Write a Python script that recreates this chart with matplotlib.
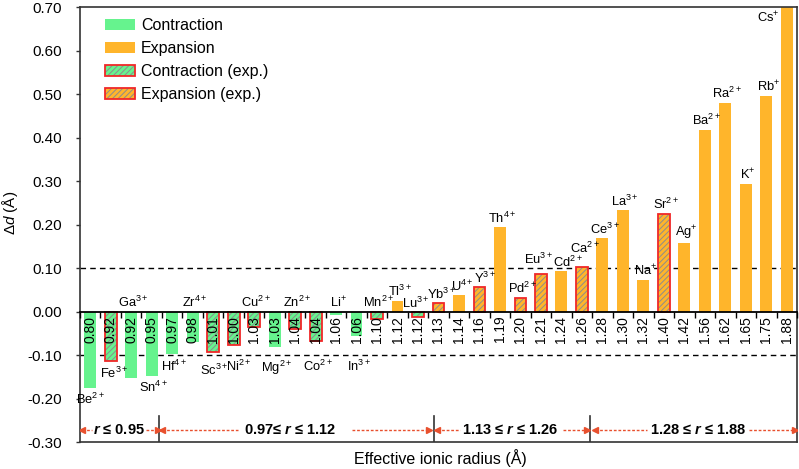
import numpy as np
import matplotlib
matplotlib.use("Agg")
import matplotlib.pyplot as plt
from matplotlib.patches import Patch
from matplotlib.legend_handler import HandlerTuple

plt.rcParams['font.family'] = ['Liberation Sans', 'DejaVu Sans']
plt.rcParams['mathtext.fontset'] = 'custom'
plt.rcParams['mathtext.rm'] = 'Liberation Sans'
plt.rcParams['mathtext.it'] = 'Liberation Sans:italic'
plt.rcParams['mathtext.bf'] = 'Liberation Sans:bold'
plt.rcParams['mathtext.bfit'] = 'Liberation Sans:italic:bold'
plt.rcParams['mathtext.sf'] = 'Liberation Sans'
plt.rcParams['hatch.linewidth'] = 0.7

# ---------------- data ----------------
elements = ['Be', 'Fe', 'Ga', 'Sn', 'Hf', 'Zr', 'Sc', 'Ni', 'Cu', 'Mg', 'Zn', 'Co',
            'Li', 'In', 'Mn', 'Tl', 'Lu', 'Yb', 'U', 'Y', 'Th', 'Pd', 'Eu', 'Cd',
            'Ca', 'Ce', 'La', 'Na', 'Sr', 'Ag', 'Ba', 'Ra', 'K', 'Rb', 'Cs']
charges = ['2+', '3+', '3+', '4+', '4+', '4+', '3+', '2+', '2+', '2+', '2+', '2+',
           '+', '3+', '2+', '3+', '3+', '3+', '4+', '3+', '4+', '2+', '3+', '2+',
           '2+', '3+', '3+', '+', '2+', '+', '2+', '2+', '+', '+', '+']
radii = ['0.80', '0.92', '0.92', '0.95', '0.97', '0.98', '1.01', '1.00', '1.03', '1.03',
         '1.04', '1.04', '1.06', '1.06', '1.10', '1.12', '1.12', '1.13', '1.14', '1.16',
         '1.19', '1.20', '1.21', '1.24', '1.26', '1.28', '1.30', '1.32', '1.40', '1.42',
         '1.56', '1.62', '1.65', '1.75', '1.88']
delta_d = [-0.176, -0.114, -0.152, -0.148, -0.098, -0.070, -0.092, -0.077, -0.036, -0.082,
           -0.040, -0.068, -0.007, -0.055, -0.017, 0.025, -0.013, 0.019, 0.038, 0.056,
           0.194, 0.032, 0.086, 0.093, 0.102, 0.169, 0.233, 0.073, 0.225, 0.157,
           0.419, 0.481, 0.294, 0.497, 0.700]
experimental = ['Fe', 'Sc', 'Ni', 'Cu', 'Zn', 'Co', 'Mn', 'Lu', 'Yb', 'Y', 'Pd', 'Eu',
                'Ca', 'Sr']
labels_above = ['Ga', 'Zr', 'Cu', 'Zn', 'Li', 'Mn', 'Lu']

region_texts = [r'$\mathbfit{r}$ ≤ 0.95', r'0.97≤ $\mathbfit{r}$ ≤ 1.12',
                r'1.13 ≤ $\mathbfit{r}$ ≤ 1.26', r'1.28 ≤ $\mathbfit{r}$ ≤ 1.88']
yticks = [-0.30, -0.20, -0.10, 0.00, 0.10, 0.20, 0.30, 0.40, 0.50, 0.60, 0.70]

# ---------------- style ----------------
GREEN = '#66F38E'
ORANGE = '#FFB52B'
HATCH_C = '#8c8c8c'
RED = '#F02828'
ARROW_RED = '#E8502E'
BAR_W = 0.58
LABEL_FS = 9.3
# per-label nudges in points (dx, dy)
nudge = {'Ca': (1, 7), 'Eu': (-3.5, 4), 'Cd': (3, 0), 'Sc': (-1, -3), 'Ni': (2, 0),
         'Lu': (-3, -0.5), 'Yb': (0.5, 0), 'U': (1, 0), 'Y': (2.5, 0),
         'Be': (-1, 0), 'Fe': (1, -1)}

fig = plt.figure(figsize=(7.99, 4.69), dpi=100)
ax = fig.add_axes([80 / 799, 1 - 442 / 469, 717 / 799, 434.5 / 469])

n = len(delta_d)
x = np.arange(n)
vals = np.array(delta_d)

for i in range(n):
    v = vals[i]
    col = GREEN if v < 0 else ORANGE
    if elements[i] in experimental:
        ax.bar(x[i], v, width=BAR_W, color=col, hatch='//////', edgecolor=HATCH_C,
               linewidth=0, zorder=2)
        ax.bar(x[i], v, width=BAR_W, fill=False, edgecolor=RED, linewidth=1.3, zorder=2.1)
    else:
        ax.bar(x[i], v, width=BAR_W, color=col, edgecolor='none', zorder=2)

ax.axhline(0.10, color='black', lw=1.0, ls=(0, (4, 3)), zorder=1)
ax.axhline(-0.10, color='black', lw=1.0, ls=(0, (4, 3)), zorder=1)

ax.set_xlim(-0.5, n - 0.5)
ax.set_ylim(-0.30, 0.70)
ax.set_yticks(yticks)
ax.set_yticklabels([f'{t:.2f}' for t in yticks])
ax.set_xticks([])
ax.tick_params(axis='y', length=3, width=1.0, pad=10, labelsize=11, color='#333333')
for sp in ax.spines.values():
    sp.set_color('#333333')
    sp.set_linewidth(1.2)

# category axis at y = 0
sec = ax.secondary_xaxis(0.3)
sec.patch.set_visible(False)
sec.set_zorder(5)
sec.set_xticks(x)
sec.set_xticklabels(radii, rotation=90, fontsize=10)
sec.set_xticks(np.arange(-0.5, n, 1.0), minor=True)
sec.tick_params(which='major', length=0, pad=3)
sec.tick_params(which='minor', length=4, width=1.0, direction='out')
sec.spines['bottom'].set_linewidth(1.3)
sec.spines['bottom'].set_color('black')

# ion labels
for i in range(n):
    v = vals[i]
    el = elements[i]
    lab = r'$\mathrm{%s}^{%s}$' % (el, charges[i])
    dx, dy = nudge.get(el, (0, 0))
    if el == 'Cs':
        ax.annotate(lab, (x[i], v), xytext=(-13, -2), textcoords='offset points',
                    ha='center', va='top', fontsize=LABEL_FS, zorder=6)
    elif v > 0 or el in labels_above:
        ax.annotate(lab, (x[i], max(v, 0)), xytext=(1.5 + dx, 1 + dy),
                    textcoords='offset points', ha='center', va='bottom',
                    fontsize=LABEL_FS, zorder=6)
    else:
        ax.annotate(lab, (x[i], min(v, -0.10)), xytext=(1.5 + dx, -2.5 + dy),
                    textcoords='offset points', ha='center', va='top',
                    fontsize=LABEL_FS, zorder=6)

# region annotations
sep_x = [3.37, 16.78, 24.39]
for sx in sep_x:
    ax.plot([sx, sx], [-0.30, -0.24], color='#333333', lw=1.2, zorder=3)

region_y = -0.273
region_text_x = [1.40, 9.77, 20.49, 29.67]
left_segs = [(-0.42, 0.09), (3.50, 7.21), (16.93, 18.05), (24.64, 27.18)]
right_segs = [(2.72, 3.31), (12.78, 16.54), (23.08, 24.25), (32.16, 34.38)]
for k in range(4):
    for (a, b) in (left_segs[k], right_segs[k]):
        ax.plot([a, b], [region_y, region_y], color=ARROW_RED, lw=1.0,
                ls=(0, (2, 1.3)), zorder=3)
    ax.plot(left_segs[k][0], region_y, marker='<', ms=4.5, color=ARROW_RED,
            mec=ARROW_RED, zorder=3)
    ax.plot(right_segs[k][1], region_y, marker='>', ms=4.5, color=ARROW_RED,
            mec=ARROW_RED, zorder=3)
    ax.text(region_text_x[k], region_y, region_texts[k], ha='center', va='center',
            fontsize=10.5, fontweight='bold', zorder=4)

ax.set_xlabel('Effective ionic radius (Å)', fontsize=11.5)
ax.xaxis.set_label_coords(0.502, -0.016)
ax.set_ylabel(r'$\mathit{\Delta d}$ (Å)', fontsize=11)
ax.yaxis.set_label_coords(-0.083, 0.527)

# legend
h1 = Patch(facecolor=GREEN, edgecolor='none')
h2 = Patch(facecolor=ORANGE, edgecolor='none')
h3a = Patch(facecolor=GREEN, hatch='//////', edgecolor=HATCH_C, linewidth=0)
h3b = Patch(fill=False, edgecolor=RED, linewidth=1.3)
h4a = Patch(facecolor=ORANGE, hatch='//////', edgecolor=HATCH_C, linewidth=0)
h4b = Patch(fill=False, edgecolor=RED, linewidth=1.3)
ax.legend([h1, h2, (h3a, h3b), (h4a, h4b)],
          ['Contraction', 'Expansion', 'Contraction (exp.)', 'Expansion (exp.)'],
          handler_map={tuple: HandlerTuple(ndivide=1, pad=0)},
          loc='upper left', bbox_to_anchor=(0.035, 0.975), frameon=False,
          fontsize=11.5, handlelength=1.9, handleheight=0.65, handletextpad=0.35,
          labelspacing=0.5, borderpad=0, borderaxespad=0)

fig.savefig('out.png', dpi=100)
